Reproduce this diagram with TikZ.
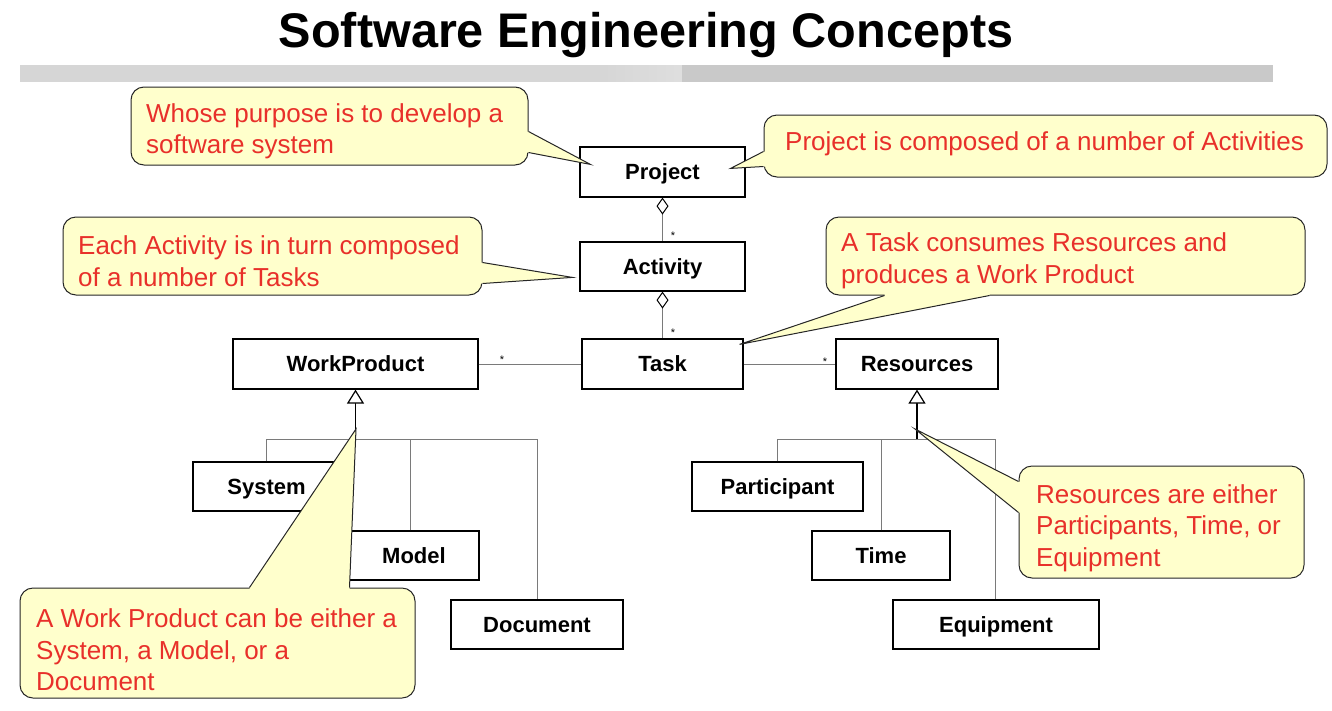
\documentclass[tikz,border=0pt]{standalone}
\usepackage{fontspec}
\setmainfont{Liberation Sans}
\usetikzlibrary{arrows.meta,calc}
\definecolor{callfill}{HTML}{FFFFCC}
\definecolor{calltext}{HTML}{E8302A}
\definecolor{linkgray}{HTML}{7A7A7A}
\definecolor{barA}{HTML}{D6D6D6}
\definecolor{barB}{HTML}{DEDEDE}
\definecolor{barC}{HTML}{C9C9C9}

% pointer of a callout: base points #1 and #2 on the box edge, tip #3,
% #4 pushes the filled base slightly into the box to hide its border
\newcommand{\drawpointer}[4]{%
  \fill[callfill] ($#1+#4$) -- #1 -- #3 -- #2 -- ($#2+#4$) -- cycle;
  \draw[calledge] #1 -- #3 -- #2;}

\begin{document}
\begin{tikzpicture}[x=1pt,y=-1pt,
  cls/.style={draw=black, line width=1.2pt, fill=white, inner sep=0pt,
    font=\fontsize{22}{26}\selectfont\bfseries, minimum height=50pt,
    text height=20pt, text depth=4.2pt},
  link/.style={draw=linkgray, line width=1pt},
  agg/.style={link, {Diamond[length=17pt,width=12pt,fill=white,color=black,line width=1pt]}-},
  gen/.style={draw=black, line width=1.2pt, -{Triangle[length=14pt,width=17pt,fill=white]}},
  mult/.style={font=\fontsize{11}{11}\selectfont, inner sep=0pt},
  callbox/.style={draw=black!85, line width=1pt, fill=callfill, rounded corners=13pt, inner sep=0pt},
  calledge/.style={draw=black!85, line width=1pt, line join=miter},
  calltxt/.style={text=calltext, font=\fontsize{26}{31.5}\selectfont, align=left, anchor=west, inner sep=0pt},
]
\useasboundingbox (0,0) rectangle (1332,710);
\fill[white] (0,0) rectangle (1332,710);

% title and header bar
\node[font=\fontsize{48.6}{56}\selectfont\bfseries, anchor=base, inner sep=0pt] (title) at (646,47) {Software Engineering Concepts};
\fill[barA] (20,65) rectangle (600,82);
\foreach \i in {0,...,9}
  \fill[barB!\the\numexpr\i*10+5\relax!barA] ({600+\i*8.2},65) rectangle ({600+(\i+1)*8.2+0.3},82);
\fill[barC] (682,65) rectangle (1273,82);

% classes
\node[cls, minimum width=165pt] (project) at (662.5,172) {Project};
\node[cls, minimum width=165pt, minimum height=49pt] (activity) at (662.5,266.5) {Activity};
\node[cls, minimum width=161pt] (task) at (662.5,364) {Task};
\node[cls, minimum width=245pt] (workproduct) at (355.5,364) {WorkProduct};
\node[cls, minimum width=162pt] (resources) at (917,364) {Resources};
\node[cls, minimum width=147pt, minimum height=49pt] (system) at (266.5,486.5) {System};
\node[cls, minimum width=130pt, minimum height=49pt] (model) at (414,555.5) {Model};
\node[cls, minimum width=172pt, minimum height=49pt] (document) at (537,624.5) {Document};
\node[cls, minimum width=171pt, minimum height=49pt] (participant) at (777.5,486.5) {Participant};
\node[cls, minimum width=138pt, minimum height=49pt] (time) at (881,555.5) {Time};
\node[cls, minimum width=206pt, minimum height=49pt] (equipment) at (996,624.5) {Equipment};

% aggregations
\draw[agg] (project.south) -- (activity.north);
\draw[agg] (activity.south) -- (task.north);
\node[mult] (m1) at (673,236) {*};
\node[mult] (m2) at (673,333) {*};

% associations
\draw[link] (workproduct.east) -- (task.west);
\draw[link] (task.east) -- (resources.west);
\node[mult] (m3) at (502,360) {*};
\node[mult] (m4) at (825,362) {*};

% generalization of WorkProduct
\coordinate (wpj) at (355.5,439);
\draw[link] (system.north) |- (document.north |- wpj) -- (document.north);
\draw[link] ([xshift=-4pt]model.north) -- ([xshift=-4pt]model.north |- wpj);
\draw[gen] (wpj) -- (workproduct.south);

% generalization of Resources
\coordinate (rsj) at (917,439);
\draw[link] (participant.north) |- ([xshift=-1pt]equipment.north |- rsj) -- ([xshift=-1pt]equipment.north);
\draw[link] (time.north) -- (time.north |- rsj);
\draw[gen] (rsj) -- (resources.south);

% callout: purpose of a project
\node[callbox, minimum width=397pt, minimum height=78pt] (c1) at (329.5,126) {};
\coordinate (c1a) at ($(c1.north east)+(0,45)$);
\coordinate (c1b) at ($(c1.north east)+(0,66)$);
\coordinate (c1t) at ($(project.north west)+(11,18)$);
\drawpointer{(c1a)}{(c1b)}{(c1t)}{(-3,0)}
\node[calltxt] (t1) at (146,131.5) {Whose purpose is to develop a\\software system};

% callout: project is composed of activities
\node[callbox, minimum width=563pt, minimum height=62pt] (c2) at (1045.5,146) {};
\coordinate (c2a) at ($(c2.north west)+(0,37)$);
\coordinate (c2b) at ($(c2.north west)+(0,52)$);
\coordinate (c2t) at ($(project.north east)+(-15,22)$);
\drawpointer{(c2a)}{(c2b)}{(c2t)}{(3,0)}
\node[calltxt] (t2) at (785,144) {Project is composed of a number of Activities};

% callout: activity is composed of tasks
\node[callbox, minimum width=419pt, minimum height=78pt] (c3) at (272.5,256) {};
\coordinate (c3a) at ($(c3.north east)+(0,46)$);
\coordinate (c3b) at ($(c3.north east)+(0,67)$);
\coordinate (c3t) at ($(activity.north west)+(-7,36)$);
\drawpointer{(c3a)}{(c3b)}{(c3t)}{(-3,0)}
\node[calltxt] (t3) at (78,261) {Each Activity is in turn composed\\of a number of Tasks};

% callout: task consumes resources
\node[callbox, minimum width=479pt, minimum height=78pt] (c4) at (1065.5,256) {};
\coordinate (c4a) at ($(c4.south west)+(59,0)$);
\coordinate (c4b) at ($(c4.south west)+(164,0)$);
\coordinate (c4t) at ($(task.north east)+(-4,6)$);
\drawpointer{(c4a)}{(c4b)}{(c4t)}{(0,-3)}
\node[calltxt] (t4) at (841,261) {A Task consumes Resources and\\produces a Work Product};

% callout: kinds of resources
\node[callbox, minimum width=285pt, minimum height=112pt] (c5) at (1161.5,522) {};
\coordinate (c5a) at ($(c5.north west)+(0,16)$);
\coordinate (c5b) at ($(c5.north west)+(0,47)$);
\coordinate (c5t) at ($(rsj)+(-2,-10)$);
\drawpointer{(c5a)}{(c5b)}{(c5t)}{(3,0)}
\node[calltxt] (t5) at (1036,528) {Resources are either\\Participants, Time, or\\Equipment};

% callout: kinds of work products
\node[callbox, minimum width=395pt, minimum height=110pt] (c6) at (217.5,643) {};
\coordinate (c6a) at ($(c6.north west)+(230,0)$);
\coordinate (c6b) at ($(c6.north west)+(330,0)$);
\coordinate (c6t) at ($(wpj)+(0.5,-10)$);
\drawpointer{(c6a)}{(c6b)}{(c6t)}{(0,3)}
\node[calltxt] (t6) at (36,650) {A Work Product can be either a\\System, a Model, or a\\Document};
\end{tikzpicture}
\end{document}
